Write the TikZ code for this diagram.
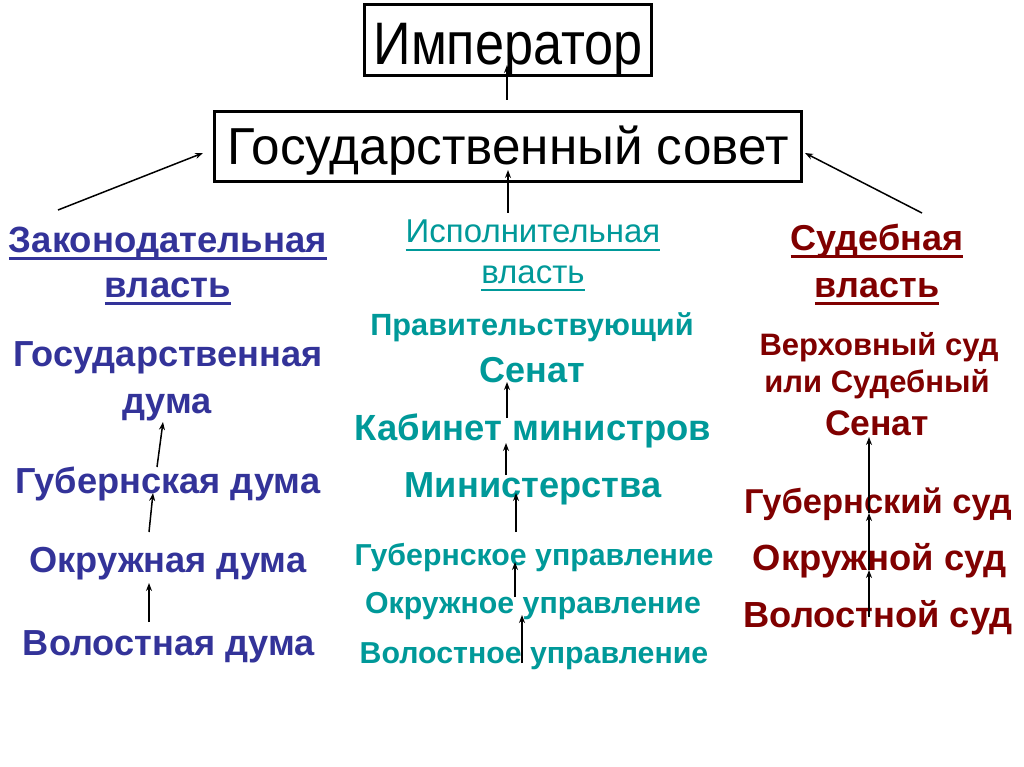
\documentclass[tikz,border=0pt]{standalone}
\usepackage{fontspec}
\setmainfont{Liberation Sans}
\usetikzlibrary{arrows.meta}
\definecolor{lblue}{RGB}{51,51,153}
\definecolor{lteal}{RGB}{0,153,153}
\definecolor{lred}{RGB}{128,0,0}
\newcommand\myul[2][3pt]{\setbox0=\hbox{#2}\leavevmode\rlap{\rule[-8pt]{\wd0}{#1}}\box0}
\begin{document}
\begin{tikzpicture}[x=1pt,y=-1pt,
  box/.style={draw, line width=3pt, inner sep=0pt, text depth=0pt, font=\fontsize{#1}{#1}\selectfont},
  lt/.style={anchor=base, inner sep=0pt, text=lblue, font=\bfseries\fontsize{#1}{#1}\selectfont},
  ct/.style={anchor=base, inner sep=0pt, text=lteal, font=\bfseries\fontsize{#1}{#1}\selectfont},
  ctr/.style={anchor=base, inner sep=0pt, text=lteal, font=\mdseries\fontsize{#1}{#1}\selectfont},
  rt/.style={anchor=base, inner sep=0pt, text=lred, font=\bfseries\fontsize{#1}{#1}\selectfont},
  arr/.style={-{Stealth[length=8pt,width=6pt]}, line width=1.5pt}]
\useasboundingbox (0,0) rectangle (1024,767);
\fill[white] (0,0) rectangle (1024,767);
% top boxes
\node[box=60, minimum width=287pt, minimum height=71pt, text height=50pt] (imp) at (508,40) {\scalebox{0.87}[1]{Император}};
\node[box=52, minimum width=587pt, minimum height=70pt, text height=37pt] (gs) at (508,146.5) {\scalebox{0.985}[1]{Государственный совет}};
% left column
\node[lt=36.5] (zak) at (168,252) {\myul{Законодательная}};
\node[lt=36.5] (zakv) at (168,297) {\myul{власть}};
\node[lt=36.2] (gd) at (168,366) {Государственная};
\node[lt=36.2] (gdd) at (167,413) {дума};
\node[lt=36.2] (gub) at (168,493) {Губернская дума};
\node[lt=36.2] (okr) at (168,572) {Окружная дума};
\node[lt=36.2] (vol) at (169,655) {Волостная дума};
% centre column
\node[ctr=33] (isp) at (533,243) {\myul[2pt]{Исполнительная}};
\node[ctr=33] (ispv) at (533,283) {\myul[2pt]{власть}};
\node[ct=30.7] (prav) at (532,335) {Правительствующий};
\node[ct=36] (sen) at (532,382) {Сенат};
\node[ct=36.4] (kab) at (533,440) {Кабинет министров};
\node[ct=36.2] (min) at (533,497) {Министерства};
\node[ct=30.3] (gu) at (534,565) {Губернское управление};
\node[ct=30.3] (ou) at (533,613) {Окружное управление};
\node[ct=30.3] (vu) at (534,663) {Волостное управление};
% right column
\node[rt=36] (sud) at (877,250) {\myul{Судебная}};
\node[rt=36] (sudv) at (877,297) {\myul{власть}};
\node[rt=31] (ver) at (879,355) {Верховный суд};
\node[rt=31] (ili) at (877,392) {или Судебный};
\node[rt=35.5] (ssen) at (877,435) {Сенат};
\node[rt=34.5] (gsud) at (878,513) {Губернский суд};
\node[rt=36.4] (osud) at (880,570) {Окружной суд};
\node[rt=36.3] (vsud) at (878,627) {Волостной суд};
% connector end points
\coordinate (c1a) at (507,100); \coordinate (c1b) at (507,65);
\coordinate (c2a) at (508,213); \coordinate (c2b) at (508,170);
\coordinate (c3a) at (58,210);  \coordinate (c3b) at (203,153);
\coordinate (c4a) at (922,213); \coordinate (c4b) at (805,153);
\coordinate (l1a) at (157,467); \coordinate (l1b) at (163,422);
\coordinate (l2a) at (149,532); \coordinate (l2b) at (153,493);
\coordinate (l3a) at (149,622); \coordinate (l3b) at (149,583);
\coordinate (m1a) at (507,418); \coordinate (m1b) at (507,382);
\coordinate (m2a) at (506,475); \coordinate (m2b) at (506,443);
\coordinate (m3a) at (516,532); \coordinate (m3b) at (516,493);
\coordinate (m4a) at (515,597); \coordinate (m4b) at (515,562);
\coordinate (m5a) at (522,663); \coordinate (m5b) at (522,615);
\coordinate (r1) at (869,617); \coordinate (r2) at (869,570);
\coordinate (r3) at (869,513); \coordinate (r4) at (869,437);
% connectors
\draw[arr] (c1a) -- (c1b);
\draw[arr] (c2a) -- (c2b);
\draw[arr] (c3a) -- (c3b);
\draw[arr] (c4a) -- (c4b);
\draw[arr] (l1a) -- (l1b);
\draw[arr] (l2a) -- (l2b);
\draw[arr] (l3a) -- (l3b);
\draw[arr] (m1a) -- (m1b);
\draw[arr] (m2a) -- (m2b);
\draw[arr] (m3a) -- (m3b);
\draw[arr] (m4a) -- (m4b);
\draw[arr] (m5a) -- (m5b);
\draw[arr] (r1) -- (r2);
\draw[arr] (r2) -- (r3);
\draw[arr] (r3) -- (r4);
\end{tikzpicture}
\end{document}
